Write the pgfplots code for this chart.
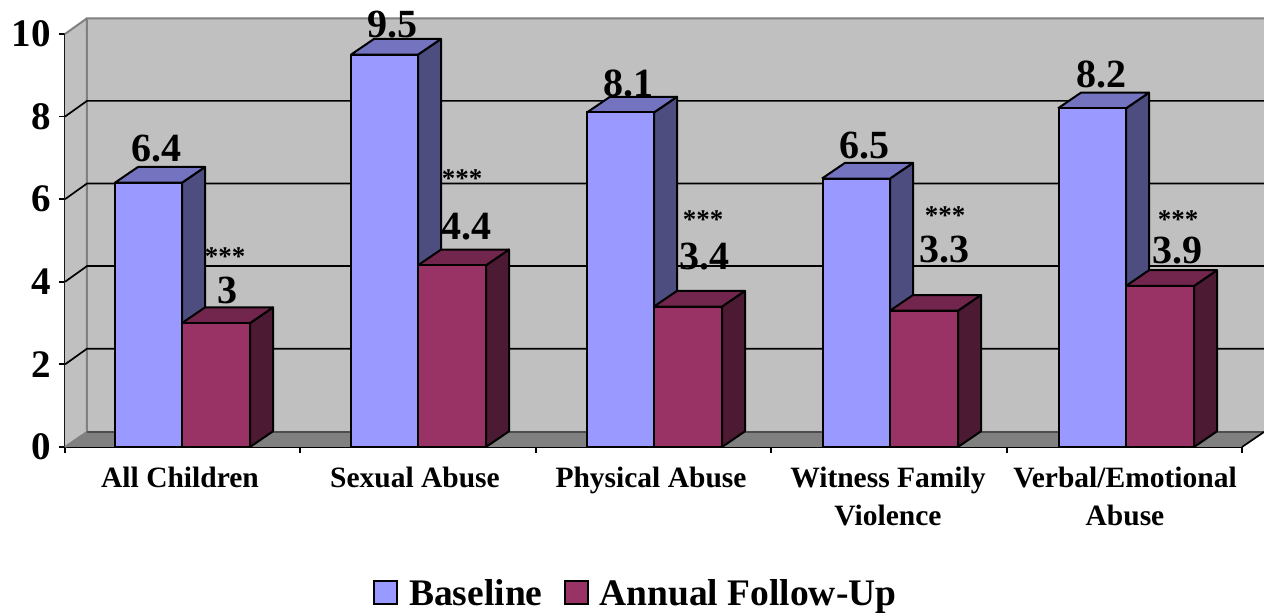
\documentclass[border=0pt]{standalone}
\usepackage{fontspec}
\setmainfont{Liberation Serif}
\usepackage{pgfplots}
\pgfplotsset{compat=1.18}
\definecolor{basefront}{HTML}{9999FF}
\definecolor{basetop}{HTML}{7373BF}
\definecolor{baseside}{HTML}{4D4D80}
\definecolor{followfront}{HTML}{993366}
\definecolor{followtop}{HTML}{73264D}
\definecolor{followside}{HTML}{4D1A33}
\definecolor{wall}{HTML}{C0C0C0}
\definecolor{floorgray}{HTML}{808080}

% Extruded top and side of one bar: left edge, right edge, value, top colour, side colour
\newcommand{\barcap}[5]{%
  \pgfmathsetmacro\xl{#1+23}\pgfmathsetmacro\xr{#2+23}\pgfmathsetmacro\vb{#3+0.38}%
  \addplot[forget plot,draw=black,line width=2pt,fill=#5,line join=round]
    coordinates {(#2,0)(\xr,0.38)(\xr,\vb)(#2,#3)(#2,0)};
  \addplot[forget plot,draw=black,line width=2pt,fill=#4,line join=round]
    coordinates {(#1,#3)(\xl,\vb)(\xr,\vb)(#2,#3)(#1,#3)};
}
% One horizontal rule of the chart's back wall, with its slanted part on the side wall
\newcommand{\wallrule}[1]{%
  \pgfmathsetmacro\vb{#1+0.38}%
  \addplot[forget plot,draw=black,line width=1.7pt]
    coordinates {(65,#1)(87,\vb)(1264,\vb)};
}

\begin{document}
\begin{tikzpicture}[font=\bfseries]
\begin{axis}[
  name=main,
  scale only axis,
  width=1177pt,
  height=413pt,
  xmin=65, xmax=1242,
  ymin=0, ymax=10,
  clip=false,
  axis lines*=left,
  axis line style={-,black,line width=1.8pt},
  tick style={black,line width=1.8pt},
  tick align=outside,
  major tick length=6pt,
  ytick={0,2,4,6,8,10},
  /pgf/number format/assume math mode=true,
  yticklabel style={font=\fontsize{39}{39}\selectfont\bfseries,inner sep=0pt,xshift=-8pt},
  xtick={65,300,536,771,1007,1242},
  xticklabels={},
  extra x ticks={180,415,651,888,1125},
  extra x tick labels={All Children,Sexual Abuse,Physical Abuse,Witness Family\\Violence,Verbal/Emotional\\Abuse},
  extra x tick style={major tick length=0pt,
    tick label style={font=\fontsize{29.5}{38}\selectfont\bfseries,align=center,inner sep=0pt,yshift=-20pt,anchor=north}},
  legend style={at={(axis cs:373,-3.55)},anchor=west,draw=none,fill=none,inner sep=0pt,
    font=\fontsize{37.5}{37.5}\selectfont\bfseries,legend columns=2,
    /tikz/every even column/.append style={column sep=19pt}},
  legend cell align=left,
]
% Back wall, side wall and floor
\addplot[forget plot,draw=none,fill=wall]
  coordinates {(65,0)(65,10)(87,10.38)(1264,10.38)(1264,0.363)(87,0.363)(65,0)};
\addplot[forget plot,draw=none,fill=floorgray]
  coordinates {(65,0)(87,0.363)(1264,0.363)(1242,0)(65,0)};
\addplot[forget plot,draw=floorgray,line width=2pt]
  coordinates {(65,0)(87,0.363)(87,10.38)(1264,10.38)};
\addplot[forget plot,draw=floorgray,line width=2pt]
  coordinates {(65,10)(87,10.38)};
\addplot[forget plot,draw=floorgray!60!black,line width=1.2pt]
  coordinates {(87,0.363)(1264,0.363)};
\addplot[forget plot,draw=black,line width=1.7pt]
  coordinates {(1242,0)(1264,0.363)};
\wallrule{2}\wallrule{4}\wallrule{6}\wallrule{8}

% Baseline
\barcap{115}{182}{6.4}{basetop}{baseside}
\barcap{351}{418}{9.5}{basetop}{baseside}
\barcap{587}{654}{8.1}{basetop}{baseside}
\barcap{822}{890}{6.5}{basetop}{baseside}
\barcap{1058}{1126}{8.2}{basetop}{baseside}
\addplot[ybar,bar width=67pt,bar shift=0pt,draw=black,line width=2pt,fill=basefront,
  legend image code/.code={\draw[black,line width=2pt,fill=basefront] (0pt,-10.5pt) rectangle (23pt,12.5pt);}]
  coordinates {(148.5,6.4)(384.5,9.5)(620.5,8.1)(856,6.5)(1092,8.2)};
\addlegendentry{\hspace{9pt}Baseline}

% Annual follow-up
\barcap{182}{250}{3}{followtop}{followside}
\barcap{418}{486}{4.4}{followtop}{followside}
\barcap{654}{722}{3.4}{followtop}{followside}
\barcap{890}{958}{3.3}{followtop}{followside}
\barcap{1126}{1194}{3.9}{followtop}{followside}
\addplot[ybar,bar width=68pt,bar shift=0pt,draw=black,line width=2pt,fill=followfront,
  legend image code/.code={\draw[black,line width=2pt,fill=followfront] (0pt,-10.5pt) rectangle (23pt,12.5pt);}]
  coordinates {(216,3)(452,4.4)(688,3.4)(924,3.3)(1160,3.9)};
\addlegendentry{\hspace{9pt}Annual Follow-Up}

% Value labels
\begin{scope}[every node/.style={font=\fontsize{40}{40}\selectfont\bfseries,inner sep=0pt}]
\node at (axis cs:157,7.22) {6.4};
\node at (axis cs:227,3.78) {3};
\node at (axis cs:392,10.24) {9.5};
\node at (axis cs:466,5.33) {4.4};
\node at (axis cs:628,8.79) {8.1};
\node at (axis cs:704,4.62) {3.4};
\node at (axis cs:864,7.31) {6.5};
\node at (axis cs:944,4.79) {3.3};
\node at (axis cs:1101,9.03) {8.2};
\node at (axis cs:1177,4.75) {3.9};
\end{scope}
% Significance stars
\begin{scope}[every node/.style={font=\fontsize{27}{27}\selectfont\bfseries,inner sep=0pt}]
\node at (axis cs:225,4.6) {***};
\node at (axis cs:462,6.49) {***};
\node at (axis cs:703,5.51) {***};
\node at (axis cs:945,5.6) {***};
\node at (axis cs:1178,5.51) {***};
\end{scope}
\coordinate (tl) at (axis cs:0,10.823);
\coordinate (br) at (axis cs:1264,-4.019);
\end{axis}
\pgfresetboundingbox
\path[use as bounding box] (tl) rectangle (br);
\end{tikzpicture}
\end{document}
